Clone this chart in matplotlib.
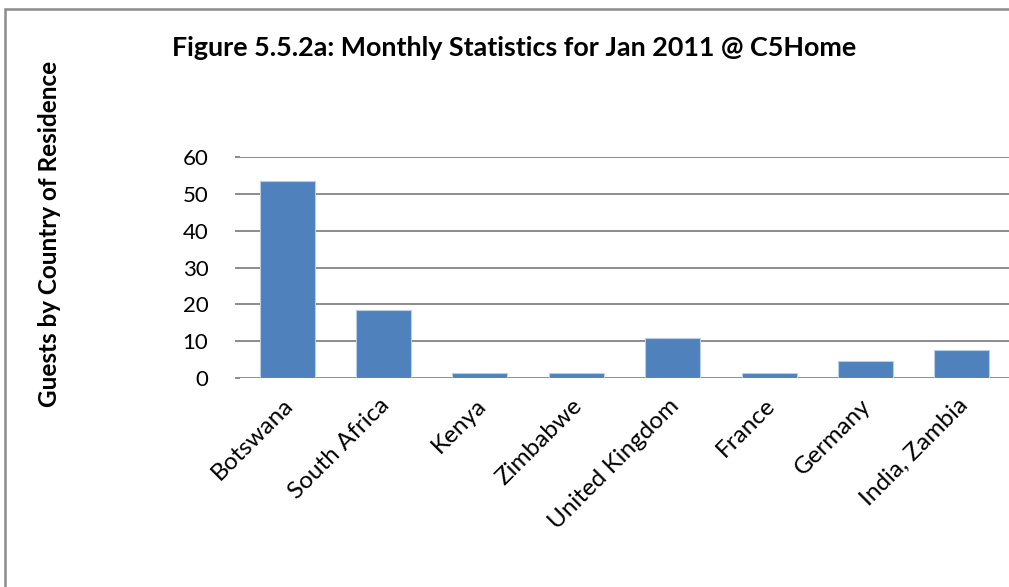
import matplotlib
matplotlib.use("Agg")
import matplotlib.pyplot as plt
from matplotlib.patches import Rectangle
from matplotlib.transforms import ScaledTranslation

# guests per country of residence, Jan 2011
countries = ['Botswana', 'South Africa', 'Kenya', 'Zimbabwe',
             'United Kingdom', 'France', 'Germany', 'India, Zambia']
guests = [53.4, 18.4, 1.4, 1.4, 10.8, 1.4, 4.6, 7.7]
yticks = [0, 10, 20, 30, 40, 50, 60]

plt.rcParams['font.family'] = ['Lato', 'DejaVu Sans']

fig = plt.figure(figsize=(10.09, 5.87), dpi=100)
ax = fig.add_axes([239 / 1009, 1 - 378 / 587, 771 / 1009, 221 / 587])

x = range(len(countries))
ax.bar(x, guests, width=0.57, color='#4F81BD', edgecolor='#B9CDE5',
       linewidth=0.8, zorder=3)

ax.set_ylim(0, 60)
ax.set_xlim(-0.5, len(countries) - 0.5)
ax.set_yticks(yticks)
ax.yaxis.grid(True, color='#8C8C8C', linewidth=1.4, zorder=0)
ax.tick_params(axis='y', length=0, pad=22, labelsize=16)
ax.tick_params(axis='x', length=0, pad=12)
ax.set_xticks(list(x))
ax.set_xticklabels(countries, rotation=45, ha='right', va='top',
                   rotation_mode='anchor', fontsize=17.5)
shift = ScaledTranslation(-0.05, 0, fig.dpi_scale_trans)
for lbl in ax.get_xticklabels():
    lbl.set_transform(lbl.get_transform() + shift)
for s in ax.spines.values():
    s.set_visible(False)

# gridlines also run a little left of the plot area, like tick marks
for v in yticks:
    ax.plot([-0.53, -0.5], [v, v], color='#8C8C8C', lw=1.4,
            clip_on=False, zorder=0)

fig.text(172 / 1009, 1 - 48 / 587, 'Figure 5.5.2a: Monthly Statistics for Jan 2011 @ C5Home',
         fontsize=19.4, fontweight='bold', ha='left', va='center')
fig.text(50 / 1009, 1 - 234 / 587, 'Guests by Country of Residence',
         fontsize=17.5, fontweight='bold', rotation=90, ha='center', va='center')

# chart frame
fig.add_artist(Rectangle((5 / 1009, -0.1), 1.2, 1 - 9 / 587 + 0.1,
                         transform=fig.transFigure, fill=False,
                         edgecolor='#8C8C8C', linewidth=1.8))

fig.savefig('out.png', dpi=100)
